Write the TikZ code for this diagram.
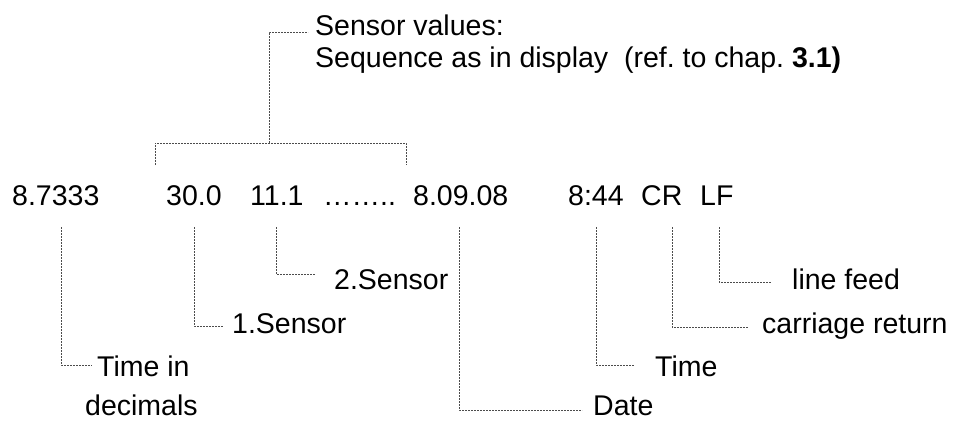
\documentclass[tikz,border=0pt]{standalone}
\usepackage{fontspec}
\setmainfont{Liberation Sans}
\frenchspacing
\begin{document}
\begin{tikzpicture}[x=1pt,y=-1pt,
  lbl/.style={anchor=base west,inner sep=0pt,font=\fontsize{28.5}{34}\selectfont},
  leader/.style={draw=black!70,line width=0.8pt,dash pattern=on 2pt off 1pt}]
\useasboundingbox (0,0) rectangle (955,421);
% main row
\node[lbl] (n1) at (12,205) {8.7333};
\node[lbl] (n2) at (166,205) {30.0};
\node[lbl] (n3) at (250,205) {11.1};
\node[lbl] (dots) at (323,205) {……..};
\node[lbl] (n5) at (413,205) {8.09.08};
\node[lbl] (n6) at (568,205) {8:44};
\node[lbl] (n7) at (641,205) {CR};
\node[lbl] (n8) at (700,205) {LF};
% header
\node[lbl] (h1) at (315,35) {Sensor values:};
\node[lbl] (h2) at (315,67) {Sequence as in display\ \ (ref. to chap. \textbf{3.1)}};
% labels
\node[lbl] (t1) at (97,376) {Time in};
\node[lbl] (t1b) at (85,415) {decimals};
\node[lbl] (t2) at (232,333) {1.Sensor};
\node[lbl] (t3) at (334,289) {2.Sensor};
\node[lbl] (t5) at (593,415) {Date};
\node[lbl] (t6) at (655,376) {Time};
\node[lbl] (t7) at (762,333) {carriage return};
\node[lbl] (t8) at (792,289) {line feed};
% bracket
\coordinate (bl) at (155,165);
\coordinate (br) at (406,165);
\coordinate (bm) at (269,143);
\coordinate (be) at (308,32);
\draw[leader] (bl) |- (br |- bm) -- (br);
\draw[leader] (bm) |- (be);
% leaders
\coordinate (a1) at (61,227);  \coordinate (e1) at (92,365);
\coordinate (a2) at (194,227); \coordinate (e2) at (223,326);
\coordinate (a3) at (276,227); \coordinate (e3) at (315,274);
\coordinate (a5) at (459,227); \coordinate (e5) at (582,410);
\coordinate (a6) at (596,227); \coordinate (e6) at (634,365);
\coordinate (a7) at (672,227); \coordinate (e7) at (748,327);
\coordinate (a8) at (719,227); \coordinate (e8) at (771,282);
\foreach \i in {1,2,3,5,6,7,8} \draw[leader] (a\i) |- (e\i);
\end{tikzpicture}
\end{document}
